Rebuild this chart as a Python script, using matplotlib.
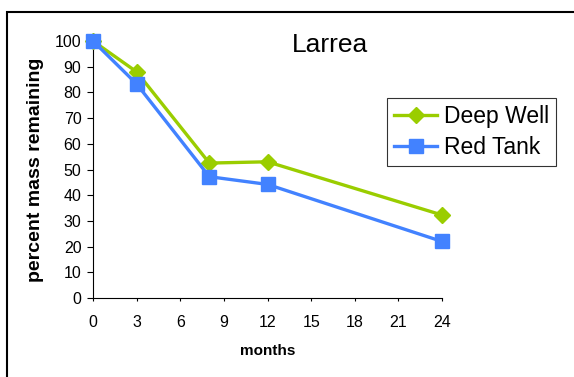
#!/usr/bin/env python
# -*- coding: utf-8 -*-
"""Larrea mass loss chart"""

import numpy as np
import matplotlib as mpl
mpl.use("Agg")
import matplotlib.pyplot as plt
from matplotlib.patches import Rectangle

# data
months = [0, 3, 8, 12, 24]
deep_well = [100, 88, 52.5, 53, 32.3]
red_tank = [100, 83.3, 47.2, 44.2, 22]
x_ticks = [0, 3, 6, 9, 12, 15, 18, 21, 24]
y_ticks = [0, 10, 20, 30, 40, 50, 60, 70, 80, 90, 100]

# constants
W, H = 574, 377
GREEN = '#9ACD00'
BLUE = '#4282FF'

plt.rcParams['font.family'] = ['Liberation Sans', 'DejaVu Sans']

fig = plt.figure(figsize=(W / 100.0, H / 100.0), dpi=100)

# outer frame, cut off at right and bottom as in the original
fig.patches.append(Rectangle((6.5 / W, -0.1), 1.2, 1.1 - 12.5 / H,
                             transform=fig.transFigure, fill=False,
                             edgecolor='black', lw=1.5))

ax = fig.add_axes([93.0 / W, 1 - 298.0 / H, 349.0 / W, 257.0 / H])
ax.plot(months, deep_well, color=GREEN, lw=2.4, marker='D', ms=8,
        label='Deep Well', clip_on=False, zorder=3)
ax.plot(months, red_tank, color=BLUE, lw=2.4, marker='s', ms=10.5,
        label='Red Tank', clip_on=False, zorder=4)

ax.set_xlim(0, 24)
ax.set_ylim(0, 100)
ax.set_xticks(x_ticks)
ax.set_yticks(y_ticks)
ax.spines['top'].set_visible(False)
ax.spines['right'].set_visible(False)
ax.tick_params(axis='x', direction='out', length=2.5, pad=9.5, labelsize=11.5)
ax.tick_params(axis='y', direction='out', length=4.3, pad=4, labelsize=11.5)

ax.set_xlabel('months', fontsize=11, fontweight='bold')
ax.xaxis.set_label_coords(0.5, -(344 - 298) / 257.0)
ax.set_ylabel('percent mass remaining', fontsize=14, fontweight='bold')
ax.yaxis.set_label_coords((44 - 93) / 349.0, 0.5)

fig.text(330.0 / W, 1 - 51.7 / H, 'Larrea', fontsize=19,
         ha='center', va='baseline')

leg = fig.legend(loc='upper left', bbox_to_anchor=(387.0 / W, 1 - 98.0 / H),
                 fontsize=16.5, frameon=True, fancybox=False, shadow=False,
                 handlelength=1.9, handletextpad=0.3, borderpad=0.3,
                 labelspacing=0.35, borderaxespad=0)
leg.get_frame().set_edgecolor('black')
leg.get_frame().set_linewidth(0.8)

fig.savefig('out.png', dpi=100)
